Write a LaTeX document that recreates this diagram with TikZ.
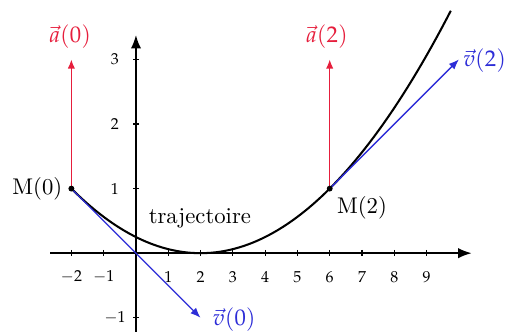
\documentclass[tikz,border=0pt]{standalone}
\usepackage{mathpazo}
\usetikzlibrary{arrows.meta}
\definecolor{vred}{RGB}{230,30,60}
\definecolor{vblue}{RGB}{45,45,215}
\tikzset{
  axis/.style={line width=0.9pt,-{Latex[length=6pt,width=4.6pt]}},
  tickmark/.style={line width=0.5pt},
  ticklabel/.style={font=\scriptsize,inner sep=0pt},
  curve/.style={line width=0.9pt},
  veca/.style={vred,line width=0.6pt,-{Latex[length=4pt,width=3.2pt]}},
  vecv/.style={vblue,line width=0.6pt,-{Latex[length=4.5pt,width=3.5pt]}},
  alabel/.style={text=vred,inner sep=1pt},
  vlabel/.style={text=vblue,inner sep=1pt},
  ptlabel/.style={inner sep=1pt}
}
\begin{document}
\begin{tikzpicture}[x=0.5cm,y=1cm]
\useasboundingbox (-4.21,-1.21) rectangle (11.49,3.92);
% axes
\coordinate (xs) at (-2.66,0);
\coordinate (xe) at (10.4,0);
\coordinate (ys) at (0,-1.3);
\coordinate (ye) at (0,3.38);
\draw[axis] (xs) -- (xe);
\draw[axis] (ys) -- (ye);
\foreach \i in {-2,-1,1,2,3,4,5,6,7,8,9}{
  \draw[tickmark] (\i,0.05) -- (\i,-0.05);
  \node[ticklabel] (tx\i) at (\i,-0.37) {$\i$};
}
\foreach \j in {-1,1,2,3}{
  \draw[tickmark] (0.1,\j) -- (-0.1,\j);
  \node[ticklabel] (ty\j) at (-0.65,\j) {$\j$};
}
% trajectory
\draw[curve] plot[domain=-2:9.75,samples=80] (\x,{(\x-2)^2/16});
% points
\coordinate (M0) at (-2,1);
\coordinate (M2) at (6,1);
\coordinate (a0) at (-2,3);
\coordinate (a2) at (6,3);
\coordinate (v0) at (2,-1);
\coordinate (v2) at (10,3);
% vectors
\draw[veca] (M0) -- (a0);
\draw[veca] (M2) -- (a2);
\draw[vecv] (M0) -- (v0);
\draw[vecv] (M2) -- (v2);
\fill (M0) circle (1.3pt);
\fill (M2) circle (1.3pt);
% labels
\node[alabel] (la0) at (-2.04,3.35) {$\vec{a}(0)$};
\node[alabel] (la2) at (5.91,3.35) {$\vec{a}(2)$};
\node[vlabel,anchor=west] (lv2) at (10.05,2.98) {$\vec{v}(2)$};
\node[vlabel,anchor=west] (lv0) at (2.3,-1.03) {$\vec{v}(0)$};
\node[ptlabel,anchor=east] (lm0) at (-2.2,1.0) {M(0)};
\node[ptlabel] (lm2) at (7.0,0.7) {M(2)};
\node[ptlabel] (traj) at (1.98,0.54) {trajectoire};
\end{tikzpicture}
\end{document}
